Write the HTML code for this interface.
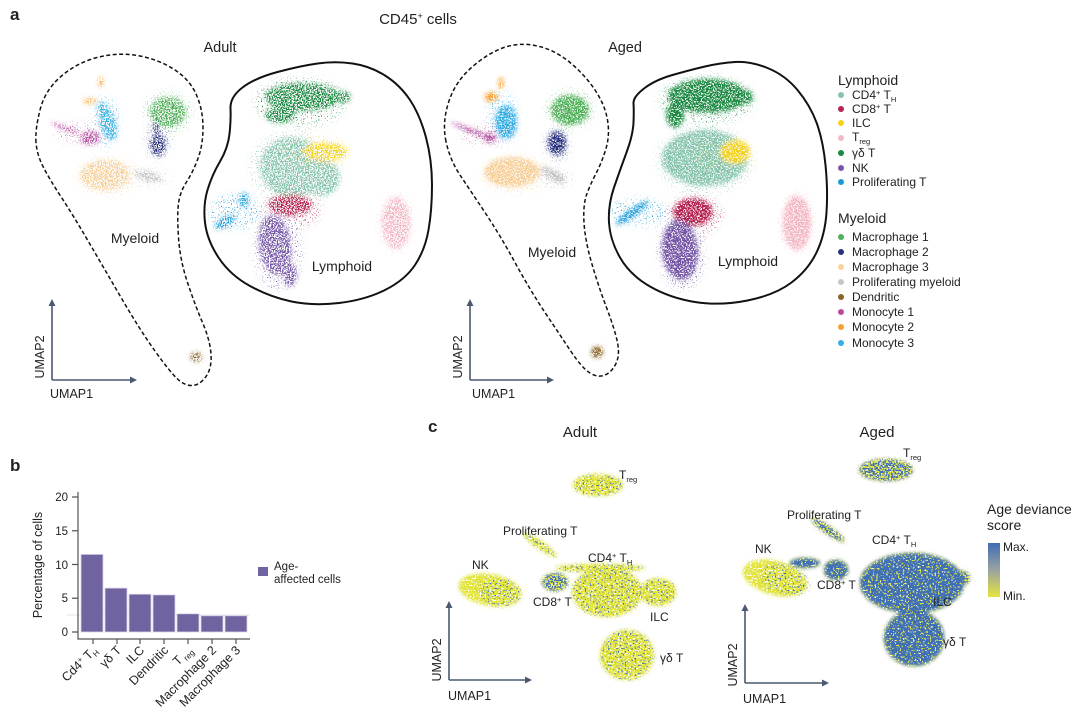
<!DOCTYPE html>
<html><head><meta charset="utf-8">
<style>
html,body{margin:0;padding:0;background:#fff;}
svg{display:block;}
text{font-family:"Liberation Sans",Arial,sans-serif;fill:#222;}
</style></head>
<body>
<svg width="1080" height="710" viewBox="0 0 1080 710" xmlns="http://www.w3.org/2000/svg">
<defs>
<linearGradient id="cb" x1="0" y1="0" x2="0" y2="1">
<stop offset="0" stop-color="#3f6db5"/><stop offset="0.5" stop-color="#9aa3a0"/><stop offset="1" stop-color="#e6e43c"/>
</linearGradient>
<filter id="bl" x="-30%" y="-30%" width="160%" height="160%"><feGaussianBlur stdDeviation="2"/></filter>
<filter id="bl3" x="-30%" y="-30%" width="160%" height="160%"><feGaussianBlur stdDeviation="4"/></filter>
<filter id="bl2" x="-20%" y="-20%" width="140%" height="140%"><feGaussianBlur stdDeviation="1.8"/></filter>

<filter id="nA" filterUnits="userSpaceOnUse" x="0" y="0" width="1080" height="710" color-interpolation-filters="sRGB">
<feTurbulence type="fractalNoise" baseFrequency="0.75" numOctaves="1" seed="3"/>
<feColorMatrix type="matrix" values="0 0 0 0 1  0 0 0 0 1  0 0 0 0 1  1 0 0 0 0"/>
<feComponentTransfer><feFuncA type="discrete" tableValues="0 0 0 0 0 0 0 0 0 0 1 1 1 1 1 1 1 1 1 1"/></feComponentTransfer>
</filter>
<filter id="nG" filterUnits="userSpaceOnUse" x="0" y="0" width="1080" height="710" color-interpolation-filters="sRGB">
<feTurbulence type="fractalNoise" baseFrequency="0.75" numOctaves="1" seed="7"/>
<feColorMatrix type="matrix" values="0 0 0 0 1  0 0 0 0 1  0 0 0 0 1  1 0 0 0 0"/>
<feComponentTransfer><feFuncA type="discrete" tableValues="0 0 0 0 0 0 0 0 0 1 1 1 1 1 1 1 1 1 1 1"/></feComponentTransfer>
</filter>
<filter id="nS" filterUnits="userSpaceOnUse" x="0" y="0" width="1080" height="710" color-interpolation-filters="sRGB">
<feTurbulence type="fractalNoise" baseFrequency="0.8" numOctaves="1" seed="17"/>
<feColorMatrix type="matrix" values="0 0 0 0 1  0 0 0 0 1  0 0 0 0 1  1 0 0 0 0"/>
<feComponentTransfer><feFuncA type="discrete" tableValues="0 0 0 0 0 0 0 0 0 0 0 0 0 1 1 1 1 1 1 1"/></feComponentTransfer>
</filter>
<filter id="nY" filterUnits="userSpaceOnUse" x="0" y="0" width="1080" height="710" color-interpolation-filters="sRGB">
<feTurbulence type="fractalNoise" baseFrequency="0.6" numOctaves="1" seed="11"/>
<feColorMatrix type="matrix" values="0 0 0 0 1  0 0 0 0 1  0 0 0 0 1  1 0 0 0 0"/>
<feComponentTransfer><feFuncA type="discrete" tableValues="0 0 0 0 0 0 0 0 1 1 1 1 1 1 1 1 1 1 1 1"/></feComponentTransfer>
</filter>
<filter id="nBl" filterUnits="userSpaceOnUse" x="0" y="0" width="1080" height="710" color-interpolation-filters="sRGB">
<feTurbulence type="fractalNoise" baseFrequency="0.6" numOctaves="1" seed="23"/>
<feColorMatrix type="matrix" values="0 0 0 0 1  0 0 0 0 1  0 0 0 0 1  1 0 0 0 0"/>
<feComponentTransfer><feFuncA type="discrete" tableValues="0 0 0 0 0 0 0 0 0 0 0 0 0 1 1 1 1 1 1 1"/></feComponentTransfer>
</filter>
<filter id="nBm" filterUnits="userSpaceOnUse" x="0" y="0" width="1080" height="710" color-interpolation-filters="sRGB">
<feTurbulence type="fractalNoise" baseFrequency="0.6" numOctaves="1" seed="31"/>
<feColorMatrix type="matrix" values="0 0 0 0 1  0 0 0 0 1  0 0 0 0 1  1 0 0 0 0"/>
<feComponentTransfer><feFuncA type="discrete" tableValues="0 0 0 0 0 0 0 0 0 0 1 1 1 1 1 1 1 1 1 1"/></feComponentTransfer>
</filter>
<filter id="nBh" filterUnits="userSpaceOnUse" x="0" y="0" width="1080" height="710" color-interpolation-filters="sRGB">
<feTurbulence type="fractalNoise" baseFrequency="0.6" numOctaves="1" seed="37"/>
<feColorMatrix type="matrix" values="0 0 0 0 1  0 0 0 0 1  0 0 0 0 1  1 0 0 0 0"/>
<feComponentTransfer><feFuncA type="discrete" tableValues="0 0 0 0 0 0 0 0 1 1 1 1 1 1 1 1 1 1 1 1"/></feComponentTransfer>
</filter>

<mask id="mA" maskUnits="userSpaceOnUse" x="0" y="0" width="1080" height="710"><rect x="0" y="0" width="1080" height="710" fill="#fff" filter="url(#nA)"/></mask>
<mask id="mG" maskUnits="userSpaceOnUse" x="0" y="0" width="1080" height="710"><rect x="0" y="0" width="1080" height="710" fill="#fff" filter="url(#nG)"/></mask>
<mask id="mS" maskUnits="userSpaceOnUse" x="0" y="0" width="1080" height="710"><rect x="0" y="0" width="1080" height="710" fill="#fff" filter="url(#nS)"/></mask>
<mask id="mY" maskUnits="userSpaceOnUse" x="0" y="0" width="1080" height="710"><rect x="0" y="0" width="1080" height="710" fill="#fff" filter="url(#nY)"/></mask>
<mask id="mBl" maskUnits="userSpaceOnUse" x="0" y="0" width="1080" height="710"><rect x="0" y="0" width="1080" height="710" fill="#fff" filter="url(#nBl)"/></mask>
<mask id="mBm" maskUnits="userSpaceOnUse" x="0" y="0" width="1080" height="710"><rect x="0" y="0" width="1080" height="710" fill="#fff" filter="url(#nBm)"/></mask>
<mask id="mBh" maskUnits="userSpaceOnUse" x="0" y="0" width="1080" height="710"><rect x="0" y="0" width="1080" height="710" fill="#fff" filter="url(#nBh)"/></mask>
</defs>

<!-- Outlines -->
<g fill="none" stroke="#111">
<path stroke-width="1.5" stroke-dasharray="4 2.5" d="M36 142.5 Q35 130 40 110 Q45 90 61.5 76 Q78 62 99 57 Q120 52 140 56 Q160 60 175 70 Q190 80 196.5 95 Q203 110 203 127.5 Q203 145 198 158.5 Q193 172 186.5 182 Q180 192 178.5 203.5 Q177 215 178.5 237.5 Q180 260 187.5 282.5 Q195 305 202.5 322.5 Q210 340 211 354 Q212 368 206 376.5 Q200 385 192.5 385.5 Q185 386 177.5 379 Q170 372 155 351 Q140 330 122.5 300 Q105 270 89 242.5 Q73 215 61.5 197.5 Q50 180 43.5 167.5 Q37 155 36 142.5 Z"/>
<path stroke-width="2" d="M230.5 108.5 Q230 97 242.5 87.5 Q255 78 277.5 72 Q300 66 317.5 63.5 Q335 61 352.5 63.5 Q370 66 385 75.5 Q400 85 410 100 Q420 115 426 137.5 Q432 160 432 185 Q432 210 428.5 230 Q425 250 415 265 Q405 280 385 290 Q365 300 339 303 Q313 306 291.5 301.5 Q270 297 250 286 Q230 275 218.5 257.5 Q207 240 205 222.5 Q203 205 207.5 190 Q212 175 220 161.5 Q228 148 229.5 134 Q231 120 230.5 108.5 Z"/>
<path stroke-width="1.5" stroke-dasharray="4 2.5" d="M446 141.5 Q442 123 448.5 102.5 Q455 82 471.5 67.5 Q488 53 504 47.5 Q520 42 537.5 46 Q555 50 570 62.5 Q585 75 595 90 Q605 105 607.5 120 Q610 135 606 148.5 Q602 162 596 173.5 Q590 185 586.5 195 Q583 205 584 222.5 Q585 240 591.5 262.5 Q598 285 606.5 307.5 Q615 330 617.5 342.5 Q620 355 616 363.5 Q612 372 605 375 Q598 378 590 373 Q582 368 571 351.5 Q560 335 545 312.5 Q530 290 515 262.5 Q500 235 485 212.5 Q470 190 460 175 Q450 160 446 141.5 Z"/>
<path stroke-width="2" d="M633.5 103.5 Q633 97 644 88.5 Q655 80 672.5 75 Q690 70 705 66.5 Q720 63 735 62 Q750 61 767.5 68 Q785 75 797.5 90 Q810 105 816.5 122.5 Q823 140 825.5 165 Q828 190 826.5 212.5 Q825 235 816.5 252.5 Q808 270 791.5 282.5 Q775 295 747.5 300.5 Q720 306 695 302 Q670 298 650 286.5 Q630 275 620 257.5 Q610 240 609 222.5 Q608 205 614 187.5 Q620 170 626.5 152.5 Q633 135 633.5 122.5 Q634 110 633.5 103.5 Z"/>
</g>

<!-- sparse halos panel a -->
<g mask="url(#mS)">
<g filter="url(#bl3)">
<ellipse cx="105" cy="122" rx="14" ry="26" fill="#35aee3"/>
<ellipse cx="80" cy="133" rx="24" ry="10" fill="#b44d9f"/>
<ellipse cx="108" cy="176" rx="32" ry="20" fill="#f6cf98"/>
<ellipse cx="168" cy="112" rx="24" ry="20" fill="#4fb058"/>
<ellipse cx="158" cy="140" rx="12" ry="18" fill="#2b3280"/>
<ellipse cx="152" cy="178" rx="20" ry="9" fill="#c2c2c2"/>
<ellipse cx="300" cy="102" rx="46" ry="24" fill="#1a8a42"/>
<ellipse cx="295" cy="168" rx="46" ry="38" fill="#86c4ad"/>
<ellipse cx="318" cy="152" rx="32" ry="16" fill="#f2d21b"/>
<ellipse cx="292" cy="210" rx="30" ry="18" fill="#b5234f"/>
<ellipse cx="278" cy="250" rx="24" ry="40" fill="#7557a6"/>
<ellipse cx="235" cy="212" rx="26" ry="18" fill="#1b9bd8"/>
<ellipse cx="396" cy="223" rx="18" ry="30" fill="#f2b6c3"/>

<ellipse cx="502" cy="118" rx="16" ry="28" fill="#35aee3"/>
<ellipse cx="485" cy="135" rx="26" ry="9" fill="#b44d9f"/>
<ellipse cx="515" cy="174" rx="34" ry="20" fill="#f6cf98"/>
<ellipse cx="570" cy="110" rx="24" ry="20" fill="#4fb058"/>
<ellipse cx="557" cy="145" rx="12" ry="16" fill="#2b3280"/>
<ellipse cx="555" cy="178" rx="20" ry="10" fill="#c2c2c2"/>
<ellipse cx="706" cy="100" rx="48" ry="24" fill="#1a8a42"/>
<ellipse cx="705" cy="160" rx="50" ry="34" fill="#86c4ad"/>
<ellipse cx="725" cy="155" rx="30" ry="18" fill="#f2d21b"/>
<ellipse cx="695" cy="215" rx="28" ry="20" fill="#b5234f"/>
<ellipse cx="682" cy="252" rx="24" ry="38" fill="#7557a6"/>
<ellipse cx="640" cy="212" rx="30" ry="14" fill="#1b9bd8"/>
<ellipse cx="797" cy="223" rx="18" ry="31" fill="#f2b6c3"/>
</g>
</g>

<!-- Panel a adult clusters -->
<g mask="url(#mA)">
<g filter="url(#bl)">
<ellipse cx="101" cy="82" rx="2.5" ry="6" fill="#f5a030"/>
<ellipse cx="90" cy="101" rx="7" ry="3" fill="#f5a030"/>
<ellipse cx="108" cy="124" rx="8" ry="17" transform="rotate(-15 108 124)" fill="#35aee3"/>
<ellipse cx="102" cy="108" rx="5" ry="5" fill="#35aee3"/>
<ellipse cx="65" cy="128" rx="15" ry="2" transform="rotate(22 65 128)" fill="#b44d9f"/>
<ellipse cx="90" cy="138" rx="10" ry="7" fill="#b44d9f"/>
<ellipse cx="168" cy="112" rx="18" ry="15" fill="#4fb058"/>
<ellipse cx="158" cy="145" rx="8" ry="11" fill="#2b3280"/>
<ellipse cx="156" cy="128" rx="3" ry="7" fill="#2b3280"/>
<ellipse cx="105" cy="175" rx="25" ry="15" fill="#f6cf98"/>
<ellipse cx="148" cy="176" rx="14" ry="5" transform="rotate(15 148 176)" fill="#c2c2c2"/>
<ellipse cx="196" cy="357" rx="6" ry="5" fill="#8a6526"/>
<ellipse cx="303" cy="97" rx="38" ry="14" fill="#1a8a42"/>
<ellipse cx="343" cy="97" rx="8" ry="6" fill="#1a8a42"/>
<ellipse cx="280" cy="115" rx="15" ry="8" fill="#1a8a42"/>
<ellipse cx="292" cy="167" rx="32" ry="30" fill="#86c4ad"/>
<ellipse cx="322" cy="178" rx="18" ry="18" fill="#86c4ad"/>
<ellipse cx="325" cy="152" rx="22" ry="9" fill="#f2d21b"/>
<ellipse cx="290" cy="205" rx="22" ry="11" fill="#b5234f"/>
<ellipse cx="275" cy="245" rx="16" ry="30" transform="rotate(-8 275 245)" fill="#7557a6"/>
<ellipse cx="290" cy="275" rx="7" ry="12" fill="#7557a6"/>
<ellipse cx="225" cy="222" rx="12" ry="5" transform="rotate(-30 225 222)" fill="#1b9bd8"/>
<ellipse cx="244" cy="200" rx="5" ry="8" fill="#1b9bd8"/>
<ellipse cx="396" cy="223" rx="14" ry="26" fill="#f2b6c3"/>
</g>
</g>

<!-- Panel a aged clusters -->
<g mask="url(#mG)">
<g filter="url(#bl)">
<ellipse cx="501" cy="83" rx="3" ry="6" fill="#f5a030"/>
<ellipse cx="491" cy="97" rx="7" ry="5" fill="#f5a030"/>
<ellipse cx="506" cy="122" rx="11" ry="17" fill="#35aee3"/>
<ellipse cx="472" cy="131" rx="23" ry="2" transform="rotate(22 472 131)" fill="#b44d9f"/>
<ellipse cx="490" cy="138" rx="6" ry="5" fill="#b44d9f"/>
<ellipse cx="570" cy="110" rx="19" ry="15" fill="#4fb058"/>
<ellipse cx="557" cy="143" rx="9" ry="12" fill="#2b3280"/>
<ellipse cx="512" cy="172" rx="28" ry="15" fill="#f6cf98"/>
<ellipse cx="553" cy="175" rx="14" ry="5" transform="rotate(30 553 175)" fill="#c2c2c2"/>
<ellipse cx="597" cy="352" rx="6" ry="6" fill="#8a6526"/>
<ellipse cx="708" cy="96" rx="40" ry="17" fill="#1a8a42"/>
<ellipse cx="746" cy="97" rx="7" ry="7" fill="#1a8a42"/>
<ellipse cx="675" cy="115" rx="9" ry="13" fill="#1a8a42"/>
<ellipse cx="705" cy="158" rx="43" ry="28" fill="#86c4ad"/>
<ellipse cx="735" cy="152" rx="15" ry="12" fill="#f2d21b"/>
<ellipse cx="693" cy="212" rx="20" ry="14" fill="#b5234f"/>
<ellipse cx="680" cy="250" rx="18" ry="30" transform="rotate(-5 680 250)" fill="#7557a6"/>
<ellipse cx="632" cy="213" rx="20" ry="4" transform="rotate(-35 632 213)" fill="#1b9bd8"/>
<ellipse cx="797" cy="223" rx="14" ry="27" fill="#f2b6c3"/>
</g>
</g>

<!-- Panel c yellow bases -->
<g mask="url(#mY)">
<g filter="url(#bl2)" fill="#e2e43e">
<ellipse cx="598" cy="485" rx="25" ry="11"/>
<ellipse cx="540" cy="545" rx="20" ry="4" transform="rotate(35 540 545)"/>
<ellipse cx="490" cy="590" rx="32" ry="16" transform="rotate(10 490 590)"/>
<ellipse cx="555" cy="582" rx="13" ry="9"/>
<ellipse cx="607" cy="592" rx="35" ry="25"/>
<ellipse cx="600" cy="568" rx="45" ry="4"/>
<ellipse cx="658" cy="592" rx="18" ry="14"/>
<ellipse cx="627" cy="655" rx="27" ry="25"/>
<ellipse cx="886" cy="470" rx="27" ry="11"/>
<ellipse cx="828" cy="530" rx="20" ry="4" transform="rotate(35 828 530)"/>
<ellipse cx="775" cy="578" rx="33" ry="17" transform="rotate(15 775 578)"/>
<ellipse cx="805" cy="563" rx="15" ry="5"/>
<ellipse cx="836" cy="570" rx="12" ry="10"/>
<ellipse cx="912" cy="583" rx="52" ry="30"/>
<ellipse cx="962" cy="578" rx="8" ry="7"/>
<ellipse cx="914" cy="638" rx="30" ry="28"/>
</g>
</g>
<!-- Panel c blue, low fraction -->
<g mask="url(#mBl)">
<g filter="url(#bl2)" fill="#4170b5">
<ellipse cx="598" cy="485" rx="25" ry="11"/>
<ellipse cx="540" cy="545" rx="20" ry="4" transform="rotate(35 540 545)"/>
<ellipse cx="500" cy="592" rx="22" ry="14" transform="rotate(10 500 592)"/>
<ellipse cx="607" cy="592" rx="35" ry="25"/>
<ellipse cx="600" cy="568" rx="45" ry="4"/>
<ellipse cx="658" cy="592" rx="18" ry="14"/>
<ellipse cx="627" cy="655" rx="27" ry="25"/>
<ellipse cx="785" cy="580" rx="25" ry="15" transform="rotate(15 785 580)"/>
</g>
</g>
<!-- Panel c blue, mid fraction -->
<g mask="url(#mBm)">
<g filter="url(#bl2)" fill="#4170b5">
<ellipse cx="555" cy="582" rx="13" ry="9"/>
<ellipse cx="886" cy="470" rx="27" ry="11"/>
<ellipse cx="828" cy="530" rx="20" ry="4" transform="rotate(35 828 530)"/>
<ellipse cx="962" cy="578" rx="8" ry="7"/>
</g>
</g>
<!-- Panel c blue, high fraction -->
<g mask="url(#mBh)">
<g filter="url(#bl2)" fill="#4170b5">
<ellipse cx="805" cy="563" rx="15" ry="5"/>
<ellipse cx="836" cy="570" rx="12" ry="10"/>
<ellipse cx="912" cy="583" rx="52" ry="30"/>
<ellipse cx="914" cy="638" rx="30" ry="28"/>
</g>
</g>

<!-- Panel a titles -->
<text x="10" y="20" font-size="17" font-weight="bold">a</text>
<text x="418" y="24" font-size="15" text-anchor="middle">CD45<tspan dy="-5" font-size="9">+</tspan><tspan dy="5"> cells</tspan></text>
<text x="220" y="52" font-size="14.5" text-anchor="middle">Adult</text>
<text x="625" y="52" font-size="14.5" text-anchor="middle">Aged</text>
<text x="135" y="243" font-size="14" text-anchor="middle">Myeloid</text>
<text x="342" y="271" font-size="14" text-anchor="middle">Lymphoid</text>
<text x="552" y="257" font-size="14" text-anchor="middle">Myeloid</text>
<text x="748" y="266" font-size="14" text-anchor="middle">Lymphoid</text>

<!-- axes arrows -->
<g stroke="#4a5870" stroke-width="1.6" fill="none">
<path d="M52 380 V303 M52 380 H133"/>
<path d="M470 380 V303 M470 380 H550"/>
<path d="M449 680 V605 M449 680 H528"/>
<path d="M745 683 V608 M745 683 H825"/>
</g>
<g fill="#4a5870">
<path d="M52 299 l-3.5 7 h7z M137 380 l-7 -3.5 v7z"/>
<path d="M470 299 l-3.5 7 h7z M554 380 l-7 -3.5 v7z"/>
<path d="M449 601 l-3.5 7 h7z M532 680 l-7 -3.5 v7z"/>
<path d="M745 604 l-3.5 7 h7z M829 683 l-7 -3.5 v7z"/>
</g>
<g font-size="12.5">
<text transform="translate(44,357) rotate(-90)" text-anchor="middle">UMAP2</text>
<text x="50" y="398">UMAP1</text>
<text transform="translate(462,357) rotate(-90)" text-anchor="middle">UMAP2</text>
<text x="472" y="398">UMAP1</text>
<text transform="translate(441,660) rotate(-90)" text-anchor="middle">UMAP2</text>
<text x="448" y="700">UMAP1</text>
<text transform="translate(737,665) rotate(-90)" text-anchor="middle">UMAP2</text>
<text x="743" y="703">UMAP1</text>
</g>

<!-- Legend a -->
<g font-size="12">
<text x="838" y="85" font-size="14">Lymphoid</text>
<text x="838" y="223" font-size="14">Myeloid</text>
<text x="852" y="99">CD4<tspan dy="-4" font-size="7.5">+</tspan><tspan dy="4"> T</tspan><tspan dy="3" font-size="7.5">H</tspan></text>
<text x="852" y="113">CD8<tspan dy="-4" font-size="7.5">+</tspan><tspan dy="4"> T</tspan></text>
<text x="852" y="127">ILC</text>
<text x="852" y="141">T<tspan dy="3" font-size="7.5">reg</tspan></text>
<text x="852" y="157">γδ T</text>
<text x="852" y="172">NK</text>
<text x="852" y="186">Proliferating T</text>
<text x="852" y="241">Macrophage 1</text>
<text x="852" y="256">Macrophage 2</text>
<text x="852" y="271">Macrophage 3</text>
<text x="852" y="286">Proliferating myeloid</text>
<text x="852" y="301">Dendritic</text>
<text x="852" y="316">Monocyte 1</text>
<text x="852" y="331">Monocyte 2</text>
<text x="852" y="347">Monocyte 3</text>
</g>
<g>
<circle cx="841" cy="95" r="3" fill="#86c4ad"/>
<circle cx="841" cy="109" r="3" fill="#b5234f"/>
<circle cx="841" cy="123" r="3" fill="#f5d21a"/>
<circle cx="841" cy="138" r="3" fill="#f4b8c4"/>
<circle cx="841" cy="153" r="3" fill="#1a8a42"/>
<circle cx="841" cy="168" r="3" fill="#7557a6"/>
<circle cx="841" cy="182" r="3" fill="#1b9bd8"/>
<circle cx="841" cy="237" r="3" fill="#4fb058"/>
<circle cx="841" cy="252" r="3" fill="#2b3280"/>
<circle cx="841" cy="267" r="3" fill="#f8d3a0"/>
<circle cx="841" cy="282" r="3" fill="#c6c6c6"/>
<circle cx="841" cy="297" r="3" fill="#8a6526"/>
<circle cx="841" cy="312" r="3" fill="#b44d9f"/>
<circle cx="841" cy="327" r="3" fill="#f5a030"/>
<circle cx="841" cy="343" r="3" fill="#35aee3"/>
</g>

<!-- Panel b -->
<text x="10" y="471" font-size="17" font-weight="bold">b</text>
<line x1="67" y1="615" x2="250" y2="615" stroke="#e4e4e4" stroke-width="1"/>
<g fill="#7063a0" stroke="#d8d3ea" stroke-width="0.8">
<rect x="81" y="554.4" width="22" height="77.6"/>
<rect x="105" y="588.1" width="22" height="43.9"/>
<rect x="129" y="594.2" width="22" height="37.8"/>
<rect x="153" y="594.9" width="22" height="37.1"/>
<rect x="177" y="613.8" width="22" height="18.2"/>
<rect x="201" y="615.8" width="22" height="16.2"/>
<rect x="225" y="615.8" width="22" height="16.2"/>
</g>
<g stroke="#555" stroke-width="1.2" fill="none">
<path d="M78 492 V639 H250"/>
<path d="M72 497 H78 M72 530.75 H78 M72 564.5 H78 M72 598.25 H78 M72 632 H78"/>
<path d="M93 639 v5 M117 639 v5 M140 639 v5 M164 639 v5 M188 639 v5 M212 639 v5 M236 639 v5"/>
</g>
<g font-size="11.5" text-anchor="end">
<text x="68" y="501">20</text>
<text x="68" y="535">15</text>
<text x="68" y="569">10</text>
<text x="68" y="602">5</text>
<text x="68" y="636">0</text>
</g>
<text transform="translate(42,565) rotate(-90)" text-anchor="middle" font-size="12.5">Percentage of cells</text>
<g font-size="12.5" text-anchor="end">
<text transform="translate(98,651) rotate(-45)">Cd4<tspan dy="-4" font-size="8">+</tspan><tspan dy="4"> T</tspan><tspan dy="3" font-size="8">H</tspan></text>
<text transform="translate(122,651) rotate(-45)">γδ T</text>
<text transform="translate(145,651) rotate(-45)">ILC</text>
<text transform="translate(169,651) rotate(-45)">Dendritic</text>
<text transform="translate(193,651) rotate(-45)">T<tspan dy="3" font-size="8"> reg</tspan></text>
<text transform="translate(217,651) rotate(-45)">Macrophage 2</text>
<text transform="translate(241,651) rotate(-45)">Macrophage 3</text>
</g>
<rect x="258" y="567" width="10" height="9" fill="#7063a0"/>
<text x="274" y="570" font-size="11.5">Age-</text>
<text x="274" y="583" font-size="11.5">affected cells</text>

<!-- Panel c -->
<text x="428" y="432" font-size="17" font-weight="bold">c</text>
<text x="580" y="437" font-size="15" text-anchor="middle">Adult</text>
<text x="877" y="437" font-size="15" text-anchor="middle">Aged</text>
<g font-size="12">
<text x="619" y="479">T<tspan dy="3" font-size="7.5">reg</tspan></text>
<text x="503" y="535">Proliferating T</text>
<text x="472" y="569">NK</text>
<text x="588" y="562">CD4<tspan dy="-4" font-size="7.5">+</tspan><tspan dy="4"> T</tspan><tspan dy="3" font-size="7.5">H</tspan></text>
<text x="533" y="606">CD8<tspan dy="-4" font-size="7.5">+</tspan><tspan dy="4"> T</tspan></text>
<text x="650" y="621">ILC</text>
<text x="660" y="662">γδ T</text>

<text x="903" y="457">T<tspan dy="3" font-size="7.5">reg</tspan></text>
<text x="787" y="519">Proliferating T</text>
<text x="755" y="553">NK</text>
<text x="872" y="544">CD4<tspan dy="-4" font-size="7.5">+</tspan><tspan dy="4"> T</tspan><tspan dy="3" font-size="7.5">H</tspan></text>
<text x="817" y="589">CD8<tspan dy="-4" font-size="7.5">+</tspan><tspan dy="4"> T</tspan></text>
<text x="933" y="606">ILC</text>
<text x="943" y="646">γδ T</text>
</g>
<text x="987" y="514" font-size="14">Age deviance</text>
<text x="987" y="530" font-size="14">score</text>
<rect x="988" y="543" width="12" height="54" fill="url(#cb)"/>
<text x="1003" y="551" font-size="12">Max.</text>
<text x="1003" y="600" font-size="12">Min.</text>
</svg>
</body></html>
